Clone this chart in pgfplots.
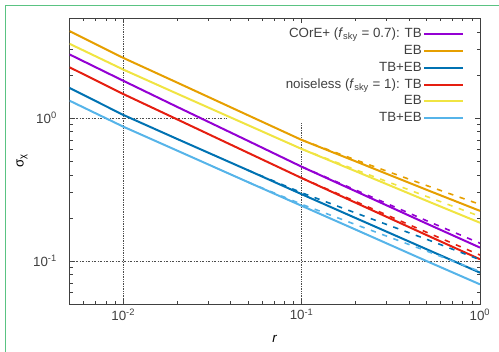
\documentclass[border=0pt]{standalone}
\usepackage{fontspec}
\setmainfont{Liberation Sans}
\usepackage{pgfplots}
\pgfplotsset{compat=1.18}
\definecolor{cpurple}{HTML}{9400D3}
\definecolor{corange}{HTML}{E69F00}
\definecolor{cdblue}{HTML}{0072B2}
\definecolor{cred}{HTML}{E51E10}
\definecolor{cyellow}{HTML}{F0E442}
\definecolor{clblue}{HTML}{56B4E9}
\definecolor{framegreen}{RGB}{90,195,130}
\definecolor{txt}{gray}{0.25}
\begin{document}
\begin{tikzpicture}
\useasboundingbox (-52.2pt,-36pt) rectangle (322.05pt,228pt);
\draw[color=framegreen, line width=0.8pt] (-48.1pt,-40pt) -- (-48.1pt,223.9pt) -- (330pt,223.9pt);
\begin{axis}[
  at={(0,0)}, anchor=south west, scale only axis,
  width=307.8pt, height=214.5pt,
  xmode=log, ymode=log,
  xmin=0.005, xmax=1, ymin=0.05, ymax=5,
  xtick={0.01,0.1,1},
  xticklabels={10\textsuperscript{-2},10\textsuperscript{-1},10\textsuperscript{0}},
  ytick={0.1,1},
  yticklabels={10\textsuperscript{-1},10\textsuperscript{0}},
  minor xtick={0.006,0.007,0.008,0.009,0.02,0.03,0.04,0.05,0.06,0.07,0.08,0.09,0.2,0.3,0.4,0.5,0.6,0.7,0.8,0.9},
  minor ytick={0.06,0.07,0.08,0.09,0.2,0.3,0.4,0.5,0.6,0.7,0.8,0.9,2,3,4},
  tick align=inside,
  major tick length=3.75pt, minor tick length=2.25pt,
  tick style={black!75, line width=0.5pt},
  axis line style={black!75, line width=0.6pt},
  ticklabel style={font=\fontsize{10}{12}\selectfont, text=txt},
  yticklabel style={xshift=-6pt},
  xlabel={\textit{r}},
  ylabel={σ\textsubscript{χ}},
  label style={font=\fontsize{10}{12}\selectfont, text=txt},
  every axis x label/.style={at={(axis description cs:0.5,-0.1226)}, anchor=center},
  every axis y label/.style={at={(axis description cs:-0.116,0.5)}, anchor=center, rotate=90},
  legend cell align=right,
  legend plot pos=right,
  legend image code/.code={\draw[#1, line width=1.5pt] (0pt,0pt) -- (29pt,0pt);},
  legend style={draw=none, fill=none, at={(1,1)}, anchor=north east,
    xshift=-12pt, yshift=-6pt, inner sep=0pt, row sep=0.6pt,
    font=\fontsize{10}{12}\selectfont, text=txt,
    nodes={inner sep=1pt, text height=7.5pt, text depth=2.5pt},
    /tikz/every even column/.append style={column sep=5pt}},
]
% grid lines
\addplot[forget plot, black!70, line width=0.5pt, dash pattern=on 1pt off 0.8pt] coordinates {(0.01,0.05) (0.01,5)};
\addplot[forget plot, black!70, line width=0.5pt, dash pattern=on 1pt off 0.8pt] coordinates {(0.1,0.05) (0.1,0.927)};
\addplot[forget plot, black!70, line width=0.5pt, dash pattern=on 2pt off 1pt on 0.5pt off 1pt] coordinates {(0.005,1) (0.0379,1)};
\addplot[forget plot, black!70, line width=0.5pt, dash pattern=on 2pt off 1pt on 0.5pt off 1pt] coordinates {(0.005,0.1) (1,0.1)};
% solid curves
\addplot[cpurple, line width=1.5pt] coordinates {(0.005,2.78) (0.01,1.82) (0.02,1.197) (0.05,0.692) (0.1,0.456) (0.2,0.308) (0.5,0.183) (1,0.124)};
\addlegendentry{COrE+ (\textit{f}\textsubscript{sky} = 0.7): TB}
\addplot[corange, line width=1.5pt] coordinates {(0.005,4.05) (0.01,2.63) (0.02,1.77) (0.05,1.045) (0.1,0.702) (0.2,0.498) (0.5,0.315) (1,0.224)};
\addlegendentry{EB}
\addplot[cdblue, line width=1.5pt] coordinates {(0.005,1.62) (0.01,1.05) (0.02,0.714) (0.05,0.431) (0.1,0.293) (0.2,0.200) (0.5,0.121) (1,0.0828)};
\addlegendentry{TB+EB}
\addplot[cred, line width=1.5pt] coordinates {(0.005,2.26) (0.01,1.47) (0.02,0.979) (0.05,0.571) (0.1,0.380) (0.2,0.256) (0.5,0.152) (1,0.1028)};
\addlegendentry{noiseless (\textit{f}\textsubscript{sky} = 1): TB}
\addplot[cyellow, line width=1.5pt] coordinates {(0.005,3.30) (0.01,2.18) (0.02,1.48) (0.05,0.891) (0.1,0.607) (0.2,0.425) (0.5,0.264) (1,0.185)};
\addlegendentry{EB}
\addplot[clblue, line width=1.5pt] coordinates {(0.005,1.32) (0.01,0.869) (0.02,0.592) (0.05,0.356) (0.1,0.243) (0.2,0.166) (0.5,0.100) (1,0.0686)};
\addlegendentry{TB+EB}
% dashed curves
\addplot[forget plot, cpurple, line width=1.2pt, dash pattern=on 4pt off 5pt] coordinates {(0.1,0.456) (0.2,0.314) (0.5,0.1916) (1,0.133)};
\addplot[forget plot, corange, line width=1.2pt, dash pattern=on 4pt off 5pt] coordinates {(0.1,0.702) (0.2,0.510) (0.5,0.3375) (1,0.2485)};
\addplot[forget plot, cdblue, line width=1.2pt, dash pattern=on 4pt off 5pt] coordinates {(0.05,0.431) (0.1,0.300) (0.2,0.217) (0.5,0.142) (1,0.102)};
\addplot[forget plot, cred, line width=1.2pt, dash pattern=on 4pt off 5pt] coordinates {(0.1,0.380) (0.2,0.261) (0.5,0.159) (1,0.110)};
\addplot[forget plot, cyellow, line width=1.2pt, dash pattern=on 4pt off 5pt] coordinates {(0.1,0.607) (0.2,0.435) (0.5,0.283) (1,0.205)};
\addplot[forget plot, clblue, line width=1.2pt, dash pattern=on 4pt off 5pt] coordinates {(0.05,0.356) (0.1,0.249) (0.2,0.180) (0.5,0.1175) (1,0.0844)};
\end{axis}
\end{tikzpicture}
\end{document}
